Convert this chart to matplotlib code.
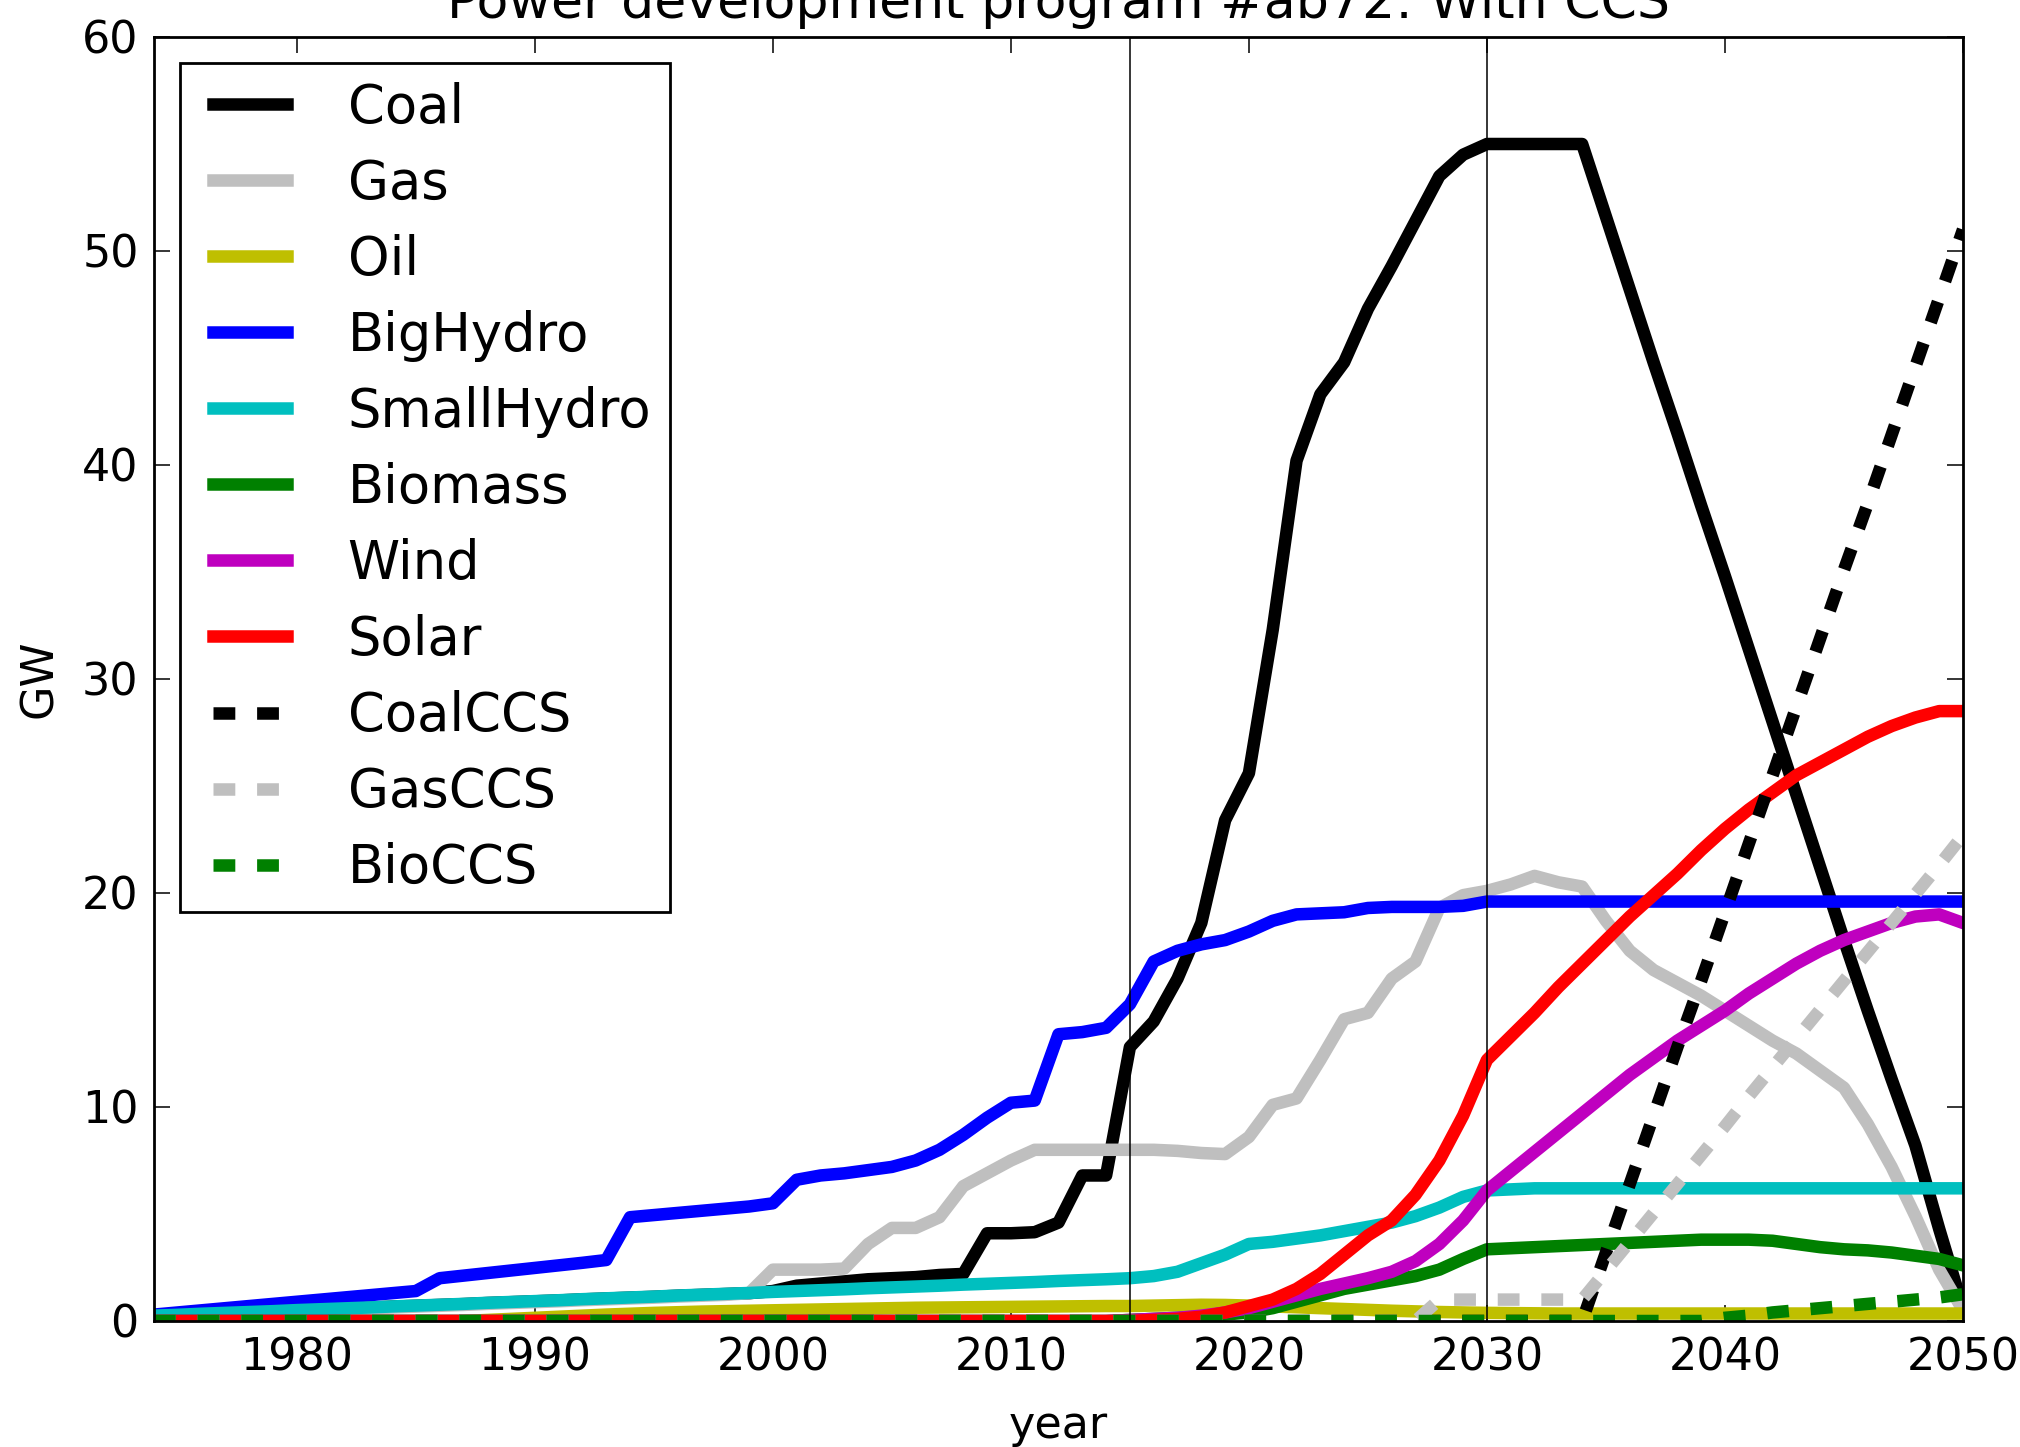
import matplotlib
matplotlib.use('Agg')
import matplotlib.pyplot as plt
from matplotlib.lines import Line2D
from matplotlib.legend_handler import HandlerLine2D

# annual capacity (GW), 1974..2050
years = list(range(1974, 2051))

coal = [0.24, 0.28, 0.33, 0.37, 0.41, 0.45, 0.5, 0.54, 0.58, 0.62,
        0.67, 0.71, 0.75, 0.79, 0.84, 0.88, 0.92, 0.96, 1.01, 1.05,
        1.09, 1.13, 1.18, 1.22, 1.26, 1.3, 1.4, 1.65, 1.75, 1.85,
        1.95, 2.0, 2.05, 2.15, 2.2, 4.1, 4.1, 4.15, 4.6, 6.8,
        6.8, 12.8, 14.0, 16.0, 18.6, 23.4, 25.6, 32.3, 40.2, 43.3,
        44.8, 47.3, 49.3, 51.4, 53.5, 54.5, 55.0, 55.0, 55.0, 55.0,
        55.0, 51.6, 48.2, 44.8, 41.5, 38.1, 34.8, 31.4, 28.0, 24.6,
        21.2, 17.8, 14.5, 11.3, 8.2, 4.3, 0.6]

gas = [0.2, 0.24, 0.29, 0.33, 0.37, 0.41, 0.46, 0.5, 0.54, 0.58,
       0.63, 0.67, 0.71, 0.75, 0.8, 0.84, 0.88, 0.92, 0.97, 1.01,
       1.05, 1.09, 1.14, 1.18, 1.22, 1.3, 2.4, 2.4, 2.4, 2.45,
       3.6, 4.35, 4.35, 4.85, 6.3, 6.9, 7.5, 8.0, 8.0, 8.0,
       8.0, 8.0, 8.0, 7.95, 7.85, 7.8, 8.6, 10.1, 10.4, 12.2,
       14.1, 14.4, 16.0, 16.8, 19.3, 19.9, 20.1, 20.4, 20.8, 20.5,
       20.3, 18.7, 17.3, 16.4, 15.8, 15.2, 14.5, 13.8, 13.1, 12.5,
       11.7, 10.9, 9.2, 7.2, 4.9, 2.4, 0.5]

oil = [0.0, 0.0, 0.0, 0.0, 0.0, 0.0, 0.0, 0.0, 0.0, 0.0,
       0.0, 0.0, 0.0, 0.0, 0.05, 0.1, 0.15, 0.2, 0.25, 0.3,
       0.34, 0.38, 0.41, 0.44, 0.46, 0.48, 0.5, 0.52, 0.54, 0.56,
       0.58, 0.6, 0.62, 0.63, 0.64, 0.65, 0.66, 0.67, 0.68, 0.69,
       0.7, 0.7, 0.72, 0.74, 0.76, 0.75, 0.72, 0.68, 0.64, 0.6,
       0.56, 0.52, 0.48, 0.45, 0.42, 0.4, 0.38, 0.37, 0.36, 0.35,
       0.35, 0.35, 0.35, 0.35, 0.35, 0.35, 0.35, 0.35, 0.35, 0.35,
       0.35, 0.35, 0.35, 0.35, 0.35, 0.35, 0.35]

big_hydro = [0.3, 0.4, 0.5, 0.6, 0.7, 0.8, 0.9, 1.0, 1.1, 1.2,
             1.3, 1.4, 2.0, 2.12, 2.24, 2.36, 2.48, 2.6, 2.72, 2.85,
             4.85, 4.95, 5.05, 5.15, 5.25, 5.35, 5.5, 6.6, 6.8, 6.9,
             7.05, 7.2, 7.5, 8.0, 8.7, 9.5, 10.2, 10.3, 13.4, 13.5,
             13.7, 14.8, 16.8, 17.3, 17.6, 17.8, 18.2, 18.7, 19.0, 19.05,
             19.1, 19.3, 19.35, 19.35, 19.35, 19.4, 19.6, 19.6, 19.6, 19.6,
             19.6, 19.6, 19.6, 19.6, 19.6, 19.6, 19.6, 19.6, 19.6, 19.6,
             19.6, 19.6, 19.6, 19.6, 19.6, 19.6, 19.6]

small_hydro = [0.25, 0.29, 0.34, 0.38, 0.42, 0.46, 0.51, 0.55, 0.59, 0.63,
               0.68, 0.72, 0.76, 0.8, 0.85, 0.89, 0.93, 0.97, 1.02, 1.06,
               1.1, 1.14, 1.19, 1.23, 1.27, 1.31, 1.36, 1.4, 1.44, 1.48,
               1.53, 1.57, 1.61, 1.65, 1.7, 1.74, 1.78, 1.82, 1.87, 1.91,
               1.95, 2.0, 2.1, 2.3, 2.7, 3.1, 3.6, 3.7, 3.85, 4.0,
               4.2, 4.4, 4.6, 4.9, 5.3, 5.8, 6.1, 6.15, 6.2, 6.2,
               6.2, 6.2, 6.2, 6.2, 6.2, 6.2, 6.2, 6.2, 6.2, 6.2,
               6.2, 6.2, 6.2, 6.2, 6.2, 6.2, 6.2]

biomass = [0.0] * 41 + [
    0.05, 0.1, 0.15, 0.2, 0.3, 0.4, 0.6, 0.9, 1.2, 1.5,
    1.7, 1.9, 2.1, 2.4, 2.9, 3.35, 3.4, 3.45, 3.5, 3.55,
    3.6, 3.65, 3.7, 3.75, 3.8, 3.8, 3.8, 3.75, 3.6, 3.45,
    3.35, 3.3, 3.2, 3.05, 2.9, 2.6]

wind = [0.0] * 41 + [
    0.05, 0.1, 0.15, 0.25, 0.4, 0.6, 0.9, 1.2, 1.5, 1.75,
    2.0, 2.3, 2.8, 3.6, 4.7, 6.1, 7.0, 7.9, 8.8, 9.7,
    10.6, 11.5, 12.3, 13.1, 13.8, 14.5, 15.3, 16.0, 16.7, 17.3,
    17.8, 18.2, 18.6, 18.9, 19.0, 18.6]

solar = [0.0] * 41 + [
    0.0, 0.05, 0.1, 0.2, 0.4, 0.7, 1.0, 1.5, 2.2, 3.1,
    4.0, 4.7, 5.9, 7.5, 9.6, 12.2, 13.3, 14.4, 15.6, 16.7,
    17.8, 18.9, 19.9, 20.9, 22.0, 23.0, 23.9, 24.7, 25.5, 26.1,
    26.7, 27.3, 27.8, 28.2, 28.5, 28.5]

coal_ccs = [0.0] * 61 + [
    3.2, 6.4, 9.6, 12.8, 15.9, 19.1, 22.3, 25.5, 28.7, 31.9,
    35.1, 38.2, 41.4, 44.6, 47.8, 51.0]

gas_ccs = [0.0] * 54 + [1.0, 1.0, 1.0, 1.0, 1.0, 1.0, 1.0] + [
    2.35, 3.7, 5.05, 6.4, 7.75, 9.1, 10.5, 11.85, 13.2, 14.55,
    15.9, 17.25, 18.6, 19.95, 21.3, 22.7]

bio_ccs = [0.0] * 66 + [
    0.15, 0.25, 0.4, 0.5, 0.6, 0.7, 0.8, 0.9, 1.0, 1.1, 1.25]

labels = ['Coal', 'Gas', 'Oil', 'BigHydro', 'SmallHydro', 'Biomass',
          'Wind', 'Solar', 'CoalCCS', 'GasCCS', 'BioCCS']
values = [coal, gas, oil, big_hydro, small_hydro, biomass,
          wind, solar, coal_ccs, gas_ccs, bio_ccs]
colors = ['k', '0.75', (0.75, 0.75, 0), 'b', (0, 0.75, 0.75), (0, 0.5, 0),
          (0.75, 0, 0.75), 'r', 'k', '0.75', (0, 0.5, 0)]
dashed = [False] * 8 + [True] * 3

milestones = [2015, 2030]

plt.rcParams['font.family'] = 'DejaVu Sans'
plt.rcParams['lines.scale_dashes'] = False

fig = plt.figure(figsize=(20.2, 14.47), dpi=100)
ax = fig.add_axes([154 / 2020, 126 / 1447, 1809 / 2020, 1284 / 1447])

for lab, vals, col, dsh in zip(labels, values, colors, dashed):
    if dsh:
        ax.plot(years, vals, color=col, lw=9, label=lab,
                dashes=(15.7, 15.7), dash_capstyle='butt')
    else:
        ax.plot(years, vals, color=col, lw=9, label=lab,
                solid_capstyle='projecting', solid_joinstyle='round')

for yr in milestones:
    ax.axvline(yr, color='k', lw=1.1)

ax.set_xlim(1974, 2050)
ax.set_ylim(0, 60)
ax.set_xticks([1980, 1990, 2000, 2010, 2020, 2030, 2040, 2050])
ax.set_yticks([0, 10, 20, 30, 40, 50, 60])
ax.tick_params(direction='in', length=11.5, width=1.1, labelsize=32, pad=11,
               top=True, right=True)
for sp in ax.spines.values():
    sp.set_linewidth(2)

ax.set_xlabel('year', fontsize=32, labelpad=18)
ax.set_ylabel('GW', fontsize=32, labelpad=15)
ax.set_title('Power development program #ab72: With CCS', fontsize=37.5, pad=14)

leg = ax.legend(loc='upper left', fontsize=38, handlelength=1.67,
                handletextpad=1.15, borderaxespad=0.5, borderpad=0.35,
                labelspacing=0.455, fancybox=False, framealpha=1,
                handler_map={Line2D: HandlerLine2D(xpad=0.27)})
leg.get_frame().set_edgecolor('k')
leg.get_frame().set_linewidth(2)

fig.savefig('out.png', dpi=100, facecolor='white')
